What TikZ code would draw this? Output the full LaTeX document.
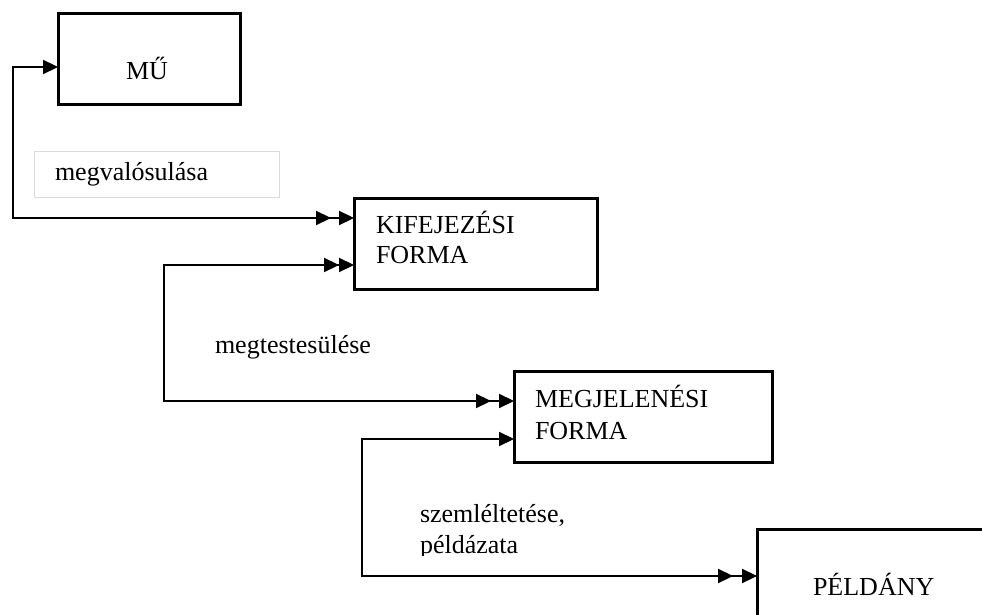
\documentclass[tikz,border=0pt]{standalone}
\usepackage{fontspec}
\setmainfont{Liberation Serif}
\usetikzlibrary{arrows.meta,positioning}

\begin{document}
\begin{tikzpicture}[
        x=1pt, y=-1pt,
        every node/.style={font=\fontsize{26}{30}\selectfont, inner sep=0pt, outer sep=0pt},
        box/.style={draw, line width=3pt, anchor=north west, minimum height=91pt},
        txt/.style={anchor=base west, align=left},
        link/.style={line width=2.2pt},
        Tri/.tip={Triangle[length=15pt, width=14pt]}
        ]
        \useasboundingbox (0,0) rectangle (982,615);

        % Boxes
        \node (mu)  [box, minimum width=182pt] at (58,14)   {};
        \node (kif) [box, minimum width=243pt] at (354,198) {};
        \node (meg) [box, minimum width=258pt] at (514,371) {};
        \node (pel) [box, minimum width=240pt] at (757,529) {};

        % Texts (multi-line nodes sit on their last baseline)
        \node (mut)  [anchor=base] at (147,80) {MŰ};
        \node (kift) [txt] at (376,263) {KIFEJEZÉSI\\FORMA};
        \node (megt) [txt] at (535,439) {MEGJELENÉSI\\[2pt]FORMA};
        \node (pelt) [txt] at (813,595) {PÉLDÁNY};
        \node (valo) [draw=gray!30, line width=1pt, anchor=north west, text width=203pt,
                      minimum height=46pt, inner xsep=21pt, align=left] at (34,151) {megvalósulása};
        \node (test) [txt] at (215,353) {megtestesülése};
        \begin{scope}
          \clip (380,490) rectangle (740,555);
          \node (szem) [txt, font=\fontsize{26}{31}\selectfont] at (420,553) {szemléltetése,\\példázata};
        \end{scope}

        % Connectors
        \draw[link, {Tri[]}-{Tri[sep=8pt]Tri[]}]
          ([yshift=-53pt]mu.north west) -- ++(-45,0) |- ([yshift=-20pt]kif.north west);
        \draw[link, {Tri[]Tri[]}-{Tri[sep=8pt]Tri[]}]
          ([yshift=-67pt]kif.north west) -- ++(-190,0) |- ([yshift=-30pt]meg.north west);
        \draw[link, {Tri[]}-{Tri[sep=9pt]Tri[]}]
          ([yshift=-68pt]meg.north west) -- ++(-152,0) |- ([yshift=-47pt]pel.north west);
      \end{tikzpicture}
\end{document}
